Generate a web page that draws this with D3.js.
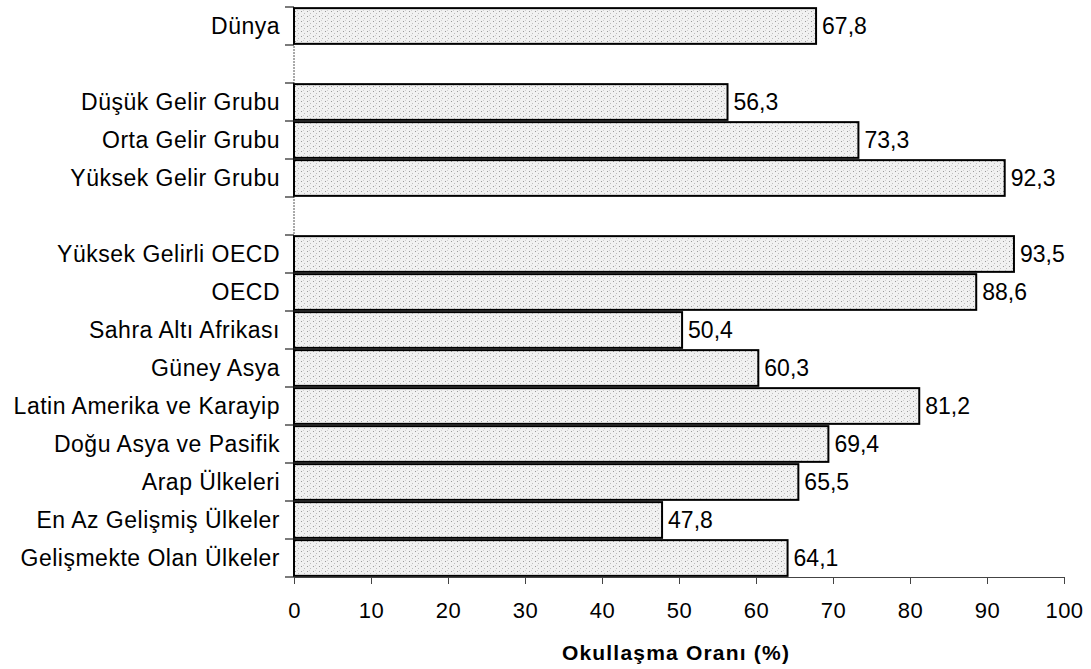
<!DOCTYPE html>
<html>
<head>
<meta charset="utf-8">
<style>
    body { margin: 0; background: #fff; }
    svg text { font-family: "Liberation Sans", Arial, sans-serif; fill: #000; }
    .cat { font-size: 23px; letter-spacing: 0.5px; }
    .val { font-size: 23px; }
    .x-axis text { font-size: 22px; letter-spacing: 0.5px; }
    .x-axis path, .x-axis line { stroke: #444; }
    .bar { stroke: #000; stroke-width: 2px; }
    .title { font-size: 21px; font-weight: bold; letter-spacing: 1.2px; }
</style>
<script src="https://cdn.jsdelivr.net/npm/d3@7"></script>
</head>
<body>
<script>
// rows from top to bottom, null = empty gap row
const categories = [
    "Dünya", null,
    "Düşük Gelir Grubu", "Orta Gelir Grubu", "Yüksek Gelir Grubu", null,
    "Yüksek Gelirli OECD", "OECD", "Sahra Altı Afrikası", "Güney Asya",
    "Latin Amerika ve Karayip", "Doğu Asya ve Pasifik", "Arap Ülkeleri",
    "En Az Gelişmiş Ülkeler", "Gelişmekte Olan Ülkeler"
];
const values = [
    67.8, null,
    56.3, 73.3, 92.3, null,
    93.5, 88.6, 50.4, 60.3,
    81.2, 69.4, 65.5,
    47.8, 64.1
];
const xTicks = [0, 10, 20, 30, 40, 50, 60, 70, 80, 90, 100];
const axisTitle = "Okullaşma Oranı (%)";

const width = 1091, height = 669;
const fmt = v => d3.format(".1f")(v).replace(".", ",");

const svg = d3.select("body").append("svg")
    .attr("width", width)
    .attr("height", height);

// stippled grey fill like the scanned original
const defs = svg.append("defs");
const pat = defs.append("pattern")
    .attr("id", "stipple")
    .attr("patternUnits", "userSpaceOnUse")
    .attr("width", 6).attr("height", 5);
pat.append("rect").attr("width", 6).attr("height", 5).attr("fill", "#f1f1f1");
pat.append("rect").attr("x", 1).attr("y", 1).attr("width", 1).attr("height", 1).attr("fill", "#9a9a9a");
pat.append("rect").attr("x", 4).attr("y", 3).attr("width", 1).attr("height", 1).attr("fill", "#bdbdbd");
pat.append("rect").attr("x", 3).attr("y", 0).attr("width", 1).attr("height", 1).attr("fill", "#d0d0d0");

const x = d3.scaleLinear().domain([0, 100]).range([294, 1064]);

const y = d3.scaleBand()
    .domain(d3.range(categories.length))
    .range([7, 577])
    .paddingInner(0.06)
    .paddingOuter(0.03);

const rows = d3.range(categories.length).filter(i => values[i] != null);

// y axis line and tick marks between categories
svg.append("line")
    .attr("x1", x(0)).attr("x2", x(0))
    .attr("y1", 7).attr("y2", 577)
    .attr("stroke", "#555").attr("stroke-width", 1)
    .attr("stroke-dasharray", "2,1");

const bounds = d3.range(categories.length + 1).map(i => 7 + i * (570 / categories.length));
svg.selectAll("line.ytick").data(bounds).join("line")
    .attr("class", "ytick")
    .attr("x1", x(0) - 9).attr("x2", x(0))
    .attr("y1", d => d).attr("y2", d => d)
    .attr("stroke", "#222").attr("stroke-width", 1.2);

// x axis
const xAxis = svg.append("g")
    .attr("class", "x-axis")
    .attr("transform", "translate(0,577)")
    .call(d3.axisBottom(x).tickValues(xTicks).tickSize(7).tickSizeOuter(0).tickPadding(32));
xAxis.select(".domain").attr("stroke", "#666");
xAxis.selectAll("text").attr("dy", "0.1em");

// bars
svg.selectAll("rect.bar").data(rows).join("rect")
    .attr("class", "bar")
    .attr("x", x(0))
    .attr("y", i => y(i))
    .attr("width", i => x(values[i]) - x(0))
    .attr("height", y.bandwidth())
    .attr("fill", "url(#stipple)");

// category labels
svg.selectAll("text.cat").data(rows).join("text")
    .attr("class", "cat")
    .attr("x", 280)
    .attr("y", i => y(i) + y.bandwidth() / 2 + 8)
    .attr("text-anchor", "end")
    .text(i => categories[i]);

// value labels
svg.selectAll("text.val").data(rows).join("text")
    .attr("class", "val")
    .attr("x", i => x(values[i]) + 6)
    .attr("y", i => y(i) + y.bandwidth() / 2 + 8)
    .text(i => fmt(values[i]));

// axis title
svg.append("text")
    .attr("class", "title")
    .attr("x", 676)
    .attr("y", 660)
    .attr("text-anchor", "middle")
    .text(axisTitle);
</script>
</body>
</html>
